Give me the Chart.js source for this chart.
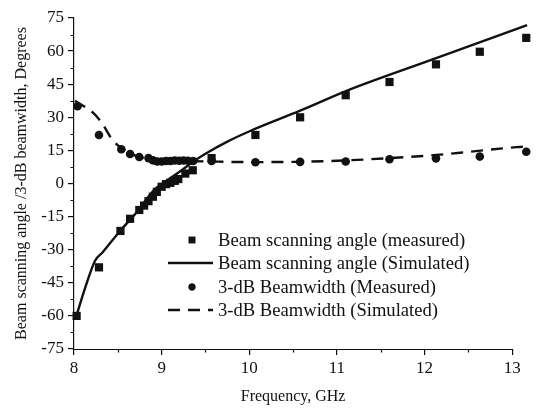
<!DOCTYPE html>
<html><head><meta charset="utf-8">
<script src="https://cdn.jsdelivr.net/npm/chart.js@4.4.1/dist/chart.umd.min.js"></script>
<style>html,body{margin:0;padding:0;background:#fff}</style>
</head><body>
<canvas id="c" width="537" height="409" style="width:537px;height:409px;display:block"></canvas>
<script>
// Beam scanning angle (measured)
const angleMeasFreq = [8.03, 8.285, 8.53, 8.64, 8.745, 8.8, 8.85, 8.9, 8.945, 9.0, 9.05, 9.1, 9.15, 9.19, 9.27, 9.355, 9.57, 10.07, 10.58, 11.1, 11.6, 12.13, 12.63, 13.16];
const angleMeas     = [-60, -38, -21.5, -16, -12, -10, -8, -6, -3.8, -1.5, -0.3, 0.3, 1.2, 2, 4.5, 6, 11.5, 22, 30, 40, 46, 54, 59.7, 66];
// Beam scanning angle (simulated)
const angleSimFreq = [8.03, 8.13, 8.24, 8.33, 8.53, 8.72, 8.9, 9.1, 9.2, 9.36, 9.5, 9.75, 10.01, 10.58, 11.11, 12.14, 13.17];
const angleSim     = [-59.6, -47, -35, -31, -21.3, -12.8, -3.5, 2.5, 5.2, 9.9, 13.5, 19, 23.8, 33, 42, 56.9, 71.8];
// 3-dB beamwidth (measured)
const bwMeasFreq = [8.04, 8.285, 8.54, 8.64, 8.745, 8.85, 8.9, 8.95, 9.0, 9.05, 9.1, 9.15, 9.2, 9.25, 9.3, 9.36, 9.57, 10.07, 10.58, 11.1, 11.6, 12.13, 12.63, 13.16];
const bwMeas     = [35, 22, 15.5, 13.4, 12, 11.5, 10.5, 10, 10, 10.2, 10.2, 10.4, 10.3, 10.4, 10.3, 10.2, 10.2, 9.6, 9.8, 10, 11, 11.4, 12.2, 14.4];
// 3-dB beamwidth (simulated)
const bwSimFreq = [8.01, 8.22, 8.32, 8.44, 8.6, 8.75, 8.9, 9.1, 9.5, 10.0, 10.5, 11.0, 11.6, 12.13, 12.52, 13.05, 13.17];
const bwSim     = [37.5, 32, 27.3, 19.7, 14.5, 12, 10.8, 10.3, 10, 9.7, 9.8, 10.3, 11.5, 12.9, 14.4, 16.5, 16.8];

const xTicks = [8, 9, 10, 11, 12, 13];
const xMinorTicks = [8.5, 9.5, 10.5, 11.5, 12.5];
const yTicks = [-75, -60, -45, -30, -15, 0, 15, 30, 45, 60, 75];
const yMinorTicks = [-67.5, -52.5, -37.5, -22.5, -7.5, 7.5, 22.5, 37.5, 52.5, 67.5];

const labels = ['Beam scanning angle (measured)', 'Beam scanning angle (Simulated)', '3-dB Beamwidth (Measured)', '3-dB Beamwidth (Simulated)'];
const xTitle = 'Frequency, GHz';
const yTitle = 'Beam scanning angle /3-dB beamwidth, Degrees';

const toPts = (xs, ys) => xs.map((x, i) => ({x: x, y: ys[i]}));
const FONT = '"Liberation Serif", "Times New Roman", serif';
const INK = '#111';

const axisDecor = {
  id: 'axisDecor',
  afterDraw(chart) {
    const ctx = chart.ctx, xs = chart.scales.x, ys = chart.scales.y;
    const a = chart.chartArea;
    const xEnd = xs.getPixelForValue(xTicks[xTicks.length - 1]);
    ctx.save();
    ctx.strokeStyle = INK; ctx.lineWidth = 1.2;
    ctx.beginPath();
    const xb = Math.round(a.bottom) + 0.5;
    ctx.moveTo(a.left, xb); ctx.lineTo(xEnd + 0.6, xb);
    yMinorTicks.forEach(v => { const p = Math.round(ys.getPixelForValue(v)) + 0.5; ctx.moveTo(a.left, p); ctx.lineTo(a.left - 3.5, p); });
    xMinorTicks.forEach(v => { const p = Math.round(xs.getPixelForValue(v)) + 0.5; ctx.moveTo(p, a.bottom); ctx.lineTo(p, a.bottom + 3.5); });
    ctx.stroke();
    // x axis title centred under the 8–13 axis
    ctx.fillStyle = INK;
    ctx.font = '16px ' + FONT;
    ctx.textAlign = 'center';
    ctx.textBaseline = 'middle';
    ctx.fillText(xTitle, (a.left + xEnd) / 2, a.bottom + 48);
    ctx.restore();
  }
};

const inLegend = {
  id: 'inLegend',
  afterDraw(chart) {
    const ctx = chart.ctx, a = chart.chartArea;
    const sx = a.left + 118, x0 = a.left + 94, x1 = a.left + 139, tx = a.left + 144;
    const rows = [a.top + 222, a.top + 245, a.top + 269, a.top + 292];
    ctx.save();
    ctx.fillStyle = INK; ctx.strokeStyle = INK;
    chart.data.datasets.forEach((ds, i) => {
      const y = rows[i];
      if (ds.showLine) {
        ctx.lineWidth = ds.borderWidth;
        ctx.setLineDash(ds.borderDash || []);
        ctx.beginPath(); ctx.moveTo(x0, y); ctx.lineTo(x1, y); ctx.stroke();
        ctx.setLineDash([]);
      } else {
        Chart.helpers.drawPoint(ctx, {pointStyle: ds.pointStyle, radius: ds.pointRadius * 0.8, rotation: 0, borderWidth: 0}, sx, y);
        ctx.fill();
      }
      ctx.font = '18.6px ' + FONT;
      ctx.textBaseline = 'middle';
      ctx.textAlign = 'left';
      ctx.fillText(ds.label, tx, y + 1);
    });
    ctx.restore();
  }
};

new Chart(document.getElementById('c'), {
  type: 'scatter',
  data: {
    datasets: [
      {label: labels[0], data: toPts(angleMeasFreq, angleMeas), showLine: false, pointStyle: 'rect', pointRadius: 5.8, pointBackgroundColor: INK, pointBorderWidth: 0, clip: false},
      {label: labels[1], data: toPts(angleSimFreq, angleSim), showLine: true, borderColor: INK, borderWidth: 2.4, pointRadius: 0, cubicInterpolationMode: 'monotone', clip: false},
      {label: labels[2], data: toPts(bwMeasFreq, bwMeas), showLine: false, pointStyle: 'circle', pointRadius: 4.3, pointBackgroundColor: INK, pointBorderWidth: 0, clip: false},
      {label: labels[3], data: toPts(bwSimFreq, bwSim), showLine: true, borderColor: INK, borderWidth: 2.4, borderDash: [12, 8], pointRadius: 0, cubicInterpolationMode: 'monotone', clip: false}
    ]
  },
  options: {
    responsive: false,
    animation: false,
    devicePixelRatio: 1,
    layout: {padding: {top: 18, right: 9, left: 0, bottom: 0}},
    plugins: {legend: {display: false}, tooltip: {enabled: false}},
    scales: {
      x: {
        type: 'linear', min: 8, max: 13.18,
        afterBuildTicks: s => { s.ticks = xTicks.map(v => ({value: v})); },
        afterFit: s => { s.height = 60; },
        ticks: {color: INK, font: {family: FONT, size: 17}, padding: 3, maxRotation: 0},
        grid: {display: true, drawOnChartArea: false, drawTicks: true, tickLength: 6, color: INK, lineWidth: 1.2},
        border: {display: false},
        title: {display: false}
      },
      y: {
        type: 'linear', min: -75, max: 75,
        afterBuildTicks: s => { s.ticks = yTicks.map(v => ({value: v})); },
        afterFit: s => { s.width = 74; },
        ticks: {color: INK, font: {family: FONT, size: 17}, padding: 4},
        grid: {display: true, drawOnChartArea: false, drawTicks: true, tickLength: 6, color: INK, lineWidth: 1.2},
        border: {display: true, color: INK, width: 1.2},
        title: {display: true, text: yTitle, color: INK, font: {family: FONT, size: 16}, padding: {top: 12, bottom: 0}}
      }
    }
  },
  plugins: [axisDecor, inLegend]
});
</script>
</body></html>
